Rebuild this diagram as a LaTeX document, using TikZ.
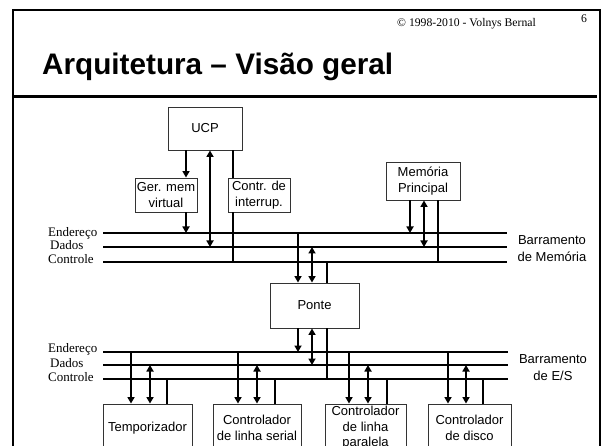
\documentclass[tikz,border=0pt]{standalone}
\usepackage{fontspec}
\setmainfont{Liberation Serif}
\setsansfont{Liberation Sans}
\usetikzlibrary{arrows.meta}
\tikzset{
  box/.style={draw=black!80, line width=0.9pt, fill=white, inner sep=0pt, align=center,
              font=\sffamily\fontsize{13}{15.5}\selectfont},
  bus/.style={line width=2.4pt},
  wire/.style={line width=1.9pt},
  arr/.style={wire, -{Triangle[length=6.5pt,width=7pt]}},
  darr/.style={wire, {Triangle[length=6.5pt,width=7pt]}-{Triangle[length=6.5pt,width=7pt]}},
  lbl/.style={anchor=base west, inner sep=0pt, font=\fontsize{13}{15}\selectfont},
  buslbl/.style={align=center, inner sep=0pt, font=\sffamily\fontsize{13}{16.5}\selectfont},
}
\begin{document}
\begin{tikzpicture}[x=1pt,y=-1pt]
\useasboundingbox (0,0) rectangle (602,446);
\clip (0,0) rectangle (602,446);
\fill[white] (0,0) rectangle (602,446);

% frame and header
\draw[line width=2pt] (13,470) -- (13,10) -- (600,10) -- (600,470);
\draw[line width=3pt] (13,97) -- (597,97);
\node[anchor=base west, inner sep=0pt, font=\fontsize{11.7}{13}\selectfont] (copy) at (397,27) {©\ 1998-2010 - Volnys Bernal};
\node[anchor=base west, inner sep=0pt, font=\fontsize{11.7}{13}\selectfont] (pg) at (581,23) {6};
\node[anchor=base west, inner sep=0pt, font=\sffamily\bfseries\fontsize{29.7}{32}\selectfont] (title) at (42,75) {Arquitetura – Visão geral};

% boxes
\node[box, minimum width=74pt, minimum height=43pt] (ucp) at (205,128.5) {UCP};
\node[box, minimum width=62pt, minimum height=34pt] (ger) at (166,195) {Ger. mem\\virtual};
\node[box, minimum width=62pt, minimum height=34pt] (ctr) at (259,195) {Contr. de\\interrup.};
\node[box, minimum width=74pt, minimum height=38pt] (mem) at (423,181) {Memória\\Principal};
\node[box, minimum width=89pt, minimum height=45pt] (ponte) at (314.5,305.5) {Ponte};
\node[box, minimum width=89pt, minimum height=48pt] (tmp) at (147.5,428) {Temporizador};
\node[box, minimum width=88pt, minimum height=48pt] (ser) at (257,428) {Controlador\\de linha serial};
\node[box, minimum width=81pt, minimum height=48pt] (par) at (365.5,428) {Controlador\\de linha\\paralela};
\node[box, minimum width=83pt, minimum height=48pt] (dsk) at (469.5,428) {Controlador\\de disco};

% bus coordinates
\coordinate (mAs) at (103,233); \coordinate (mAe) at (507,233);
\coordinate (mDs) at (103,247); \coordinate (mDe) at (507,247);
\coordinate (mCs) at (103,262); \coordinate (mCe) at (507,262);
\coordinate (eAs) at (103,352); \coordinate (eAe) at (508,352);
\coordinate (eDs) at (103,365); \coordinate (eDe) at (508,365);
\coordinate (eCs) at (103,379); \coordinate (eCe) at (508,379);

\draw[bus] (mAs) -- (mAe);
\draw[bus] (mDs) -- (mDe);
\draw[bus] (mCs) -- (mCe);
\draw[bus] (eAs) -- (eAe);
\draw[bus] (eDs) -- (eDe);
\draw[bus] (eCs) -- (eCe);

% bus labels
\node[lbl] (l1) at (48,236.5) {Endereço};
\node[lbl] (l2) at (50,250) {Dados};
\node[lbl] (l3) at (48,264) {Controle};
\node[lbl] (l4) at (48,352.5) {Endereço};
\node[lbl] (l5) at (50,367) {Dados};
\node[lbl] (l6) at (48,381.5) {Controle};
\node[buslbl] (bm) at (552,248.5) {Barramento\\de Memória};
\node[buslbl] (be) at (553,367.5) {Barramento\\de E/S};

% CPU side connections
\coordinate (u1) at (186,233);
\coordinate (u2) at (210,247);
\coordinate (u3) at (233,262);
\draw[arr] (ucp.south -| u1) -- (ger.north -| u1);
\draw[arr] (ger.south -| u1) -- (u1);
\draw[darr] (ucp.south -| u2) -- (u2);
\draw[wire] (ucp.south -| u3) -- (ctr.north -| u3);
\draw[wire] (ctr.south -| u3) -- (u3);

% memory connections
\coordinate (m1) at (410,233);
\coordinate (m2) at (424,247);
\coordinate (m3) at (438,262);
\draw[arr] (mem.south -| m1) -- (m1);
\draw[darr] (mem.south -| m2) -- (m2);
\draw[wire] (mem.south -| m3) -- (m3);

% bridge connections
\coordinate (p1) at (298,233);
\coordinate (p2) at (312,247);
\coordinate (p3) at (327,262);
\draw[arr] (p1) -- (ponte.north -| p1);
\draw[darr] (p2) -- (ponte.north -| p2);
\draw[wire] (p3) -- (ponte.north -| p3);
\coordinate (q1) at (298,352);
\coordinate (q2) at (312,365);
\coordinate (q3) at (327,379);
\draw[arr] (ponte.south -| q1) -- (q1);
\draw[darr] (ponte.south -| q2) -- (q2);
\draw[wire] (ponte.south -| q3) -- (q3);

% I/O devices
\foreach \dev/\xa/\xb/\xc in {tmp/131/150/167, ser/238/257/275, par/349/368/387, dsk/448/466/483}{
  \coordinate (\dev a) at (\xa,352);
  \coordinate (\dev b) at (\xb,365);
  \coordinate (\dev c) at (\xc,379);
  \draw[arr] (\dev a) -- (\dev.north -| \dev a);
  \draw[darr] (\dev b) -- (\dev.north -| \dev b);
  \draw[wire] (\dev c) -- (\dev.north -| \dev c);
}
\end{tikzpicture}
\end{document}
